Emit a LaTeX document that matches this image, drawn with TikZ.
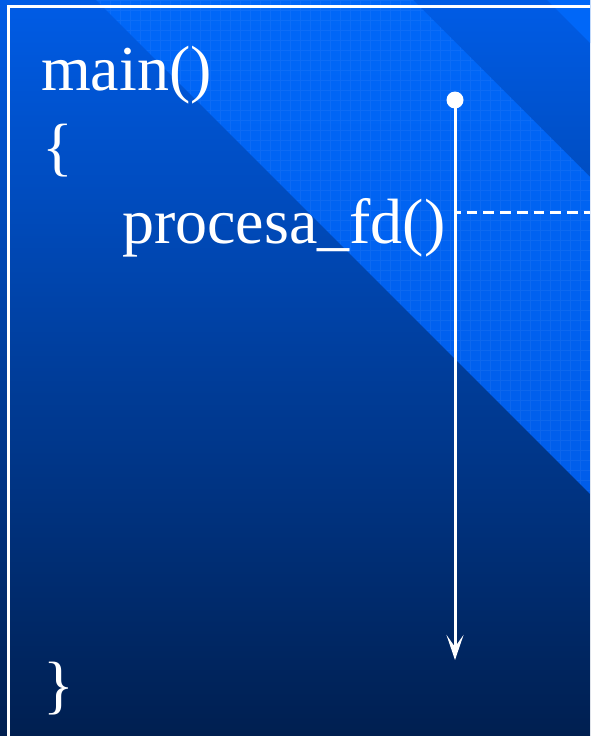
\documentclass[tikz,border=0pt]{standalone}
\usepackage{fontspec}
\setmainfont{Liberation Serif}
\usetikzlibrary{arrows.meta}
\definecolor{slidetop}{HTML}{005CE6}
\definecolor{slidemid}{HTML}{0042A4}
\definecolor{slidebottom}{HTML}{001F50}
\definecolor{bandtop}{HTML}{0067F8}
\definecolor{bandbottom}{HTML}{005DEA}
\begin{document}
\begin{tikzpicture}[
    x=1pt, y=-1pt,
    code/.style={text=white, inner sep=0pt, anchor=base west, font=\fontsize{64}{64}\selectfont},
    startdot/.style={circle, fill=white, inner sep=0pt, minimum size=17pt},
    timeline/.style={white, line width=3pt, -{Stealth[length=25pt, width=17pt, inset=12pt]}},
    callmark/.style={white, line width=3pt, dash pattern=on 10.7pt off 6pt, dash phase=5pt},
    frameline/.style={white, line width=3pt}
]
\useasboundingbox (0,0) rectangle (590,736);
\shade[top color=slidetop, middle color=slidemid, bottom color=slidebottom] (0,0) rectangle (590,736);
\shade[top color=bandtop, bottom color=bandbottom] (96,0) -- (413,0) -- (590,177) -- (590,494) -- cycle;
\fill[bandtop] (547,0) -- (590,0) -- (590,43) -- cycle;
\begin{scope}
  \clip (96,0) -- (413,0) -- (590,177) -- (590,494) -- cycle;
  \draw[white, opacity=0.05, line width=0.8pt, step=10pt] (90,0) grid (590,500);
\end{scope}
\draw[frameline] (590,6) -- (8,6) -- (8,736);
\node[code] (mainname) at (41,90) {main()};
\node[code] (openbrace) at (42,168) {\{};
\node[code] (callname) at (122,243) {procesa\_fd()};
\node[code] (closebrace) at (43,706) {\}};
\node[startdot] (start) at (455,100) {};
\coordinate (tipend) at (455,660);
\coordinate (callpt) at (455,212);
\coordinate (calledge) at (590,212);
\draw[timeline] (start.center) -- (tipend);
\draw[callmark] (callpt) -- (calledge);
\end{tikzpicture}
\end{document}
